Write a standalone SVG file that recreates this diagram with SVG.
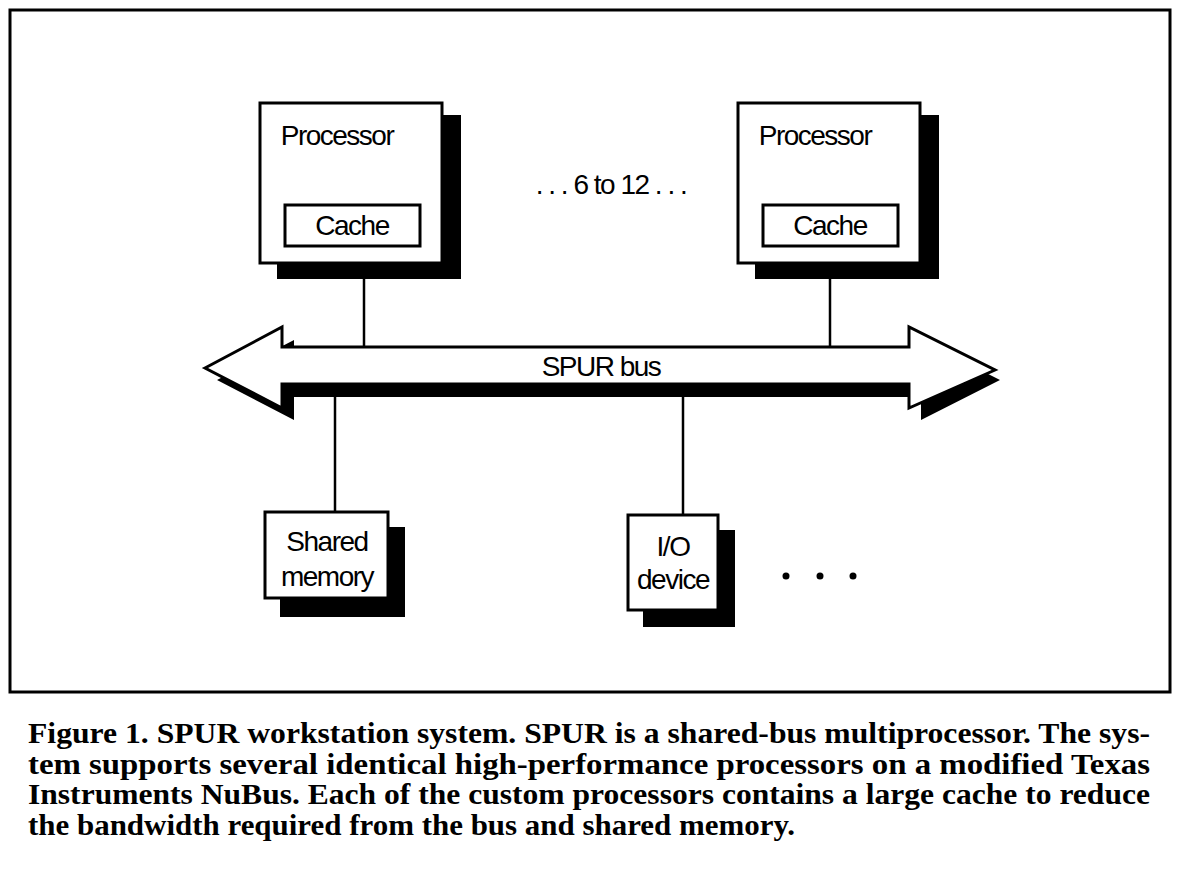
<svg xmlns="http://www.w3.org/2000/svg" width="1178" height="878" viewBox="0 0 1178 878">
<style>
.box{fill:#fff;stroke:#000;stroke-width:3}
.sh{fill:#000}
.ln{stroke:#000;stroke-width:2.5;fill:none}
.t{font-family:"Liberation Sans",Arial,sans-serif;font-size:28px;fill:#000;letter-spacing:-1.5px}
.cap{font-family:"Liberation Serif","Times New Roman",serif;font-size:30px;font-weight:bold;fill:#000}
</style>
<rect width="1178" height="878" fill="#fff"/>
<rect x="10" y="10" width="1160" height="682" fill="none" stroke="#000" stroke-width="3"/>
<g id="connectors">
<line class="ln" x1="364" y1="279" x2="364" y2="347"/>
<line class="ln" x1="830" y1="279" x2="830" y2="347"/>
<line class="ln" x1="335" y1="397" x2="335" y2="512"/>
<line class="ln" x1="683" y1="397" x2="683" y2="515"/>
</g>
<g id="bus">
<polygon class="sh" points="217,380 294,340 294,360 921,360 921,340 1000,380 921,420 921,397 294,397 294,420"/>
<polygon class="box" points="205,368 282,327 282,347 909,347 909,327 995,370 909,408 909,384 282,384 282,408"/>
<text class="t" x="601" y="376" text-anchor="middle" font-size="25">SPUR bus</text>
</g>
<g id="proc1">
<rect class="sh" x="277" y="115" width="184" height="164"/>
<rect class="box" x="260" y="103" width="182" height="160"/>
<text class="t" x="337" y="145" text-anchor="middle">Processor</text>
<rect class="box" x="285" y="205" width="135" height="41"/>
<text class="t" x="352" y="235" text-anchor="middle">Cache</text>
</g>
<g id="proc2">
<rect class="sh" x="755" y="115" width="184" height="164"/>
<rect class="box" x="738" y="103" width="182" height="160"/>
<text class="t" x="815" y="145" text-anchor="middle">Processor</text>
<rect class="box" x="763" y="205" width="135" height="41"/>
<text class="t" x="830" y="235" text-anchor="middle">Cache</text>
</g>
<text class="t" x="611" y="194" text-anchor="middle">. . . 6 to 12 . . .</text>
<g id="memory">
<rect class="sh" x="280" y="527" width="125" height="90"/>
<rect class="box" x="265" y="512" width="123" height="86"/>
<text class="t" x="327" y="551" text-anchor="middle">Shared</text>
<text class="t" x="327" y="586" text-anchor="middle">memory</text>
</g>
<g id="io">
<rect class="sh" x="643" y="530" width="92" height="97"/>
<rect class="box" x="628" y="515" width="90" height="95"/>
<text class="t" x="673" y="556" text-anchor="middle">I/O</text>
<text class="t" x="673" y="589" text-anchor="middle">device</text>
</g>
<g id="dots" fill="#000">
<circle cx="786" cy="576" r="3.5"/><circle cx="820" cy="576" r="3.5"/><circle cx="853" cy="576" r="3.5"/>
</g>
<text class="cap" x="28" y="743" textLength="1122" lengthAdjust="spacingAndGlyphs">Figure 1. SPUR workstation system. SPUR is a shared-bus multiprocessor. The sys-</text>
<text class="cap" x="28" y="774" textLength="1122" lengthAdjust="spacingAndGlyphs">tem supports several identical high-performance processors on a modified Texas</text>
<text class="cap" x="28" y="804" textLength="1122" lengthAdjust="spacingAndGlyphs">Instruments NuBus. Each of the custom processors contains a large cache to reduce</text>
<text class="cap" x="28" y="835" textLength="767" lengthAdjust="spacingAndGlyphs">the bandwidth required from the bus and shared memory.</text>
</svg>
